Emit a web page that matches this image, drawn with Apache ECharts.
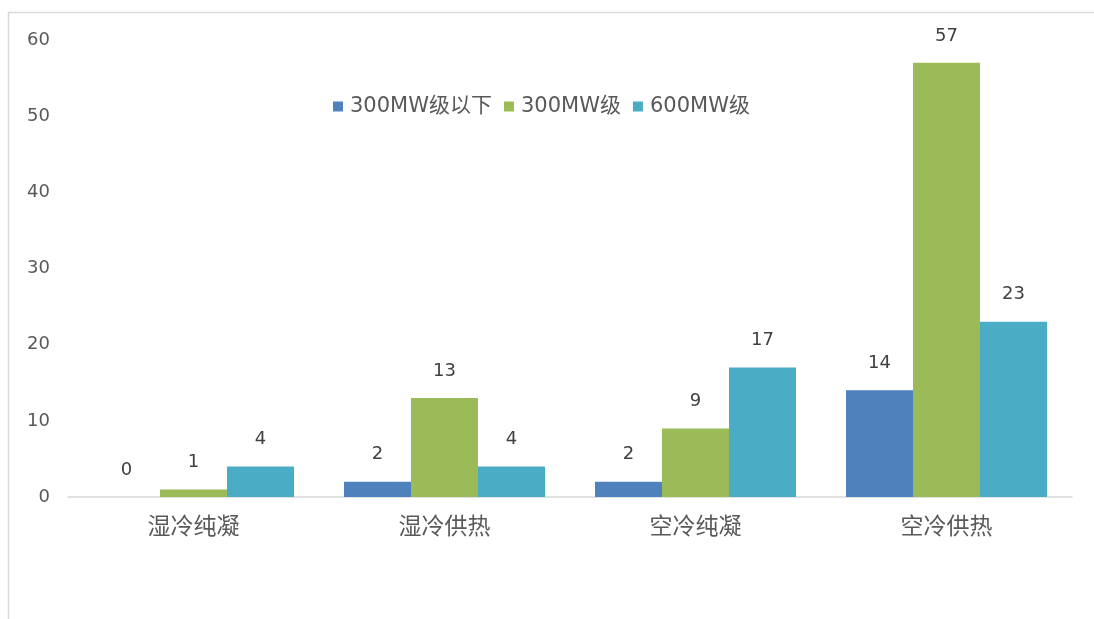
<!DOCTYPE html>
<html>
<head>
<meta charset="utf-8">
<script src="https://cdn.jsdelivr.net/npm/echarts@6/dist/echarts.min.js"></script>
<style>
html,body{margin:0;padding:0;background:#fff;}
#c{width:1094px;height:619px;}
</style>
</head>
<body>
<div id="c"></div>
<script>
var categories = ['湿冷纯凝', '湿冷供热', '空冷纯凝', '空冷供热'];
var seriesNames = ['300MW级以下', '300MW级', '600MW级'];
var below300 = [0, 2, 2, 14];
var mw300 = [1, 13, 9, 57];
var mw600 = [4, 4, 17, 23];
var yTicks = [0, 10, 20, 30, 40, 50, 60];

var colors = ['#4F81BD', '#9BBB59', '#4BACC6'];
var font = '"DejaVu Sans", "Noto Sans CJK SC", sans-serif';
var cjkFont = '"Noto Sans CJK SC", sans-serif';
var chart = echarts.init(document.getElementById('c'));
function mk(name, data) {
  return {
    name: name, type: 'bar', data: data, barWidth: 67, barGap: '0%',
    label: { show: true, position: 'top', distance: 18, color: '#404040', fontSize: 18, fontFamily: font }
  };
}
chart.setOption({
  animation: false,
  color: colors,
  graphic: [{
    type: 'rect', silent: true,
    shape: { x: 8.5, y: 12.5, width: 1200, height: 800 },
    style: { fill: 'none', stroke: '#d9d9d9', lineWidth: 1.5 }
  }],
  legend: {
    left: 328, top: 91, itemWidth: 10, itemHeight: 10, itemGap: 12,
    icon: 'rect',
    textStyle: { color: '#595959', fontSize: 21, fontFamily: font, padding: [0, 0, 0, 2] },
    data: seriesNames
  },
  grid: { left: 68, right: 22, top: 40, bottom: 122 },
  xAxis: {
    type: 'category', data: categories,
    axisLine: { lineStyle: { color: '#d9d9d9', width: 1.5 } },
    axisTick: { show: false },
    axisLabel: { color: '#595959', fontSize: 23, fontFamily: cjkFont, margin: 17 }
  },
  yAxis: {
    type: 'value', min: yTicks[0], max: yTicks[yTicks.length - 1], interval: 10,
    axisLine: { show: false }, axisTick: { show: false },
    splitLine: { show: false },
    axisLabel: { color: '#595959', fontSize: 18, fontFamily: font, margin: 18 }
  },
  series: [mk(seriesNames[0], below300), mk(seriesNames[1], mw300), mk(seriesNames[2], mw600)]
});
</script>
</body>
</html>
